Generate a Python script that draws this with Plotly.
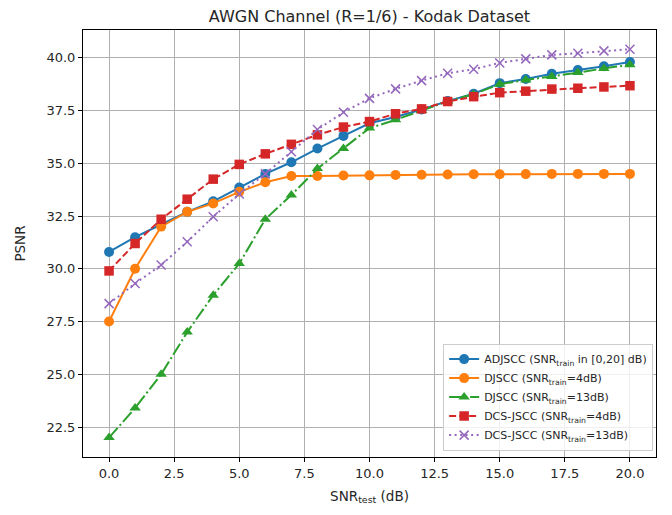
import plotly.graph_objects as go

snr_test = list(range(0, 21))

adjscc = [30.8, 31.5, 32.1, 32.7, 33.2, 33.85, 34.5, 35.05, 35.7, 36.3, 36.9,
          37.2, 37.55, 37.95, 38.3, 38.8, 39.0, 39.25, 39.42, 39.6, 39.8]
djscc_4 = [27.5, 30.0, 32.0, 32.7, 33.1, 33.65, 34.1, 34.4, 34.4, 34.42, 34.43,
           34.45, 34.46, 34.47, 34.48, 34.48, 34.49, 34.5, 34.5, 34.5, 34.5]
djscc_13 = [22.0, 23.4, 25.0, 27.0, 28.75, 30.25, 32.35, 33.5, 34.75, 35.7, 36.67,
            37.06, 37.5, 37.94, 38.28, 38.75, 38.95, 39.12, 39.3, 39.5, 39.67]
dcs_4 = [29.9, 31.2, 32.35, 33.3, 34.25, 34.95, 35.45, 35.9, 36.35, 36.72, 36.98,
         37.35, 37.58, 37.93, 38.16, 38.35, 38.42, 38.52, 38.56, 38.62, 38.68]
dcs_13 = [28.35, 29.3, 30.18, 31.28, 32.47, 33.55, 34.5, 35.55, 36.6, 37.42, 38.08,
          38.53, 38.92, 39.27, 39.46, 39.76, 39.95, 40.14, 40.22, 40.33, 40.41]

names = [
    "ADJSCC (SNR<sub>train</sub> in [0,20] dB)",
    "DJSCC (SNR<sub>train</sub>=4dB)",
    "DJSCC (SNR<sub>train</sub>=13dB)",
    "DCS-JSCC (SNR<sub>train</sub>=4dB)",
    "DCS-JSCC (SNR<sub>train</sub>=13dB)",
]
series = [adjscc, djscc_4, djscc_13, dcs_4, dcs_13]
colors = ["#1f77b4", "#ff7f0e", "#2ca02c", "#d62728", "#9467bd"]
dashes = ["solid", "solid", "13px,3px,2px,3px", "7px,3px", "2px,3.5px"]
symbols = ["circle", "circle", "triangle-up", "square", "x-thin"]
sizes = [10, 10, 10, 9.5, 9]

xticks = [0, 2.5, 5, 7.5, 10, 12.5, 15, 17.5, 20]
yticks = [22.5, 25, 27.5, 30, 32.5, 35, 37.5, 40]

fig = go.Figure()
for name, ys, c, d, s, sz in zip(names, series, colors, dashes, symbols, sizes):
    fig.add_trace(go.Scatter(
        x=snr_test, y=ys, name=name, mode="lines+markers",
        line=dict(color=c, width=2, dash=d),
        marker=dict(symbol=s, size=sz, color=c,
                    line=dict(color=c, width=1.5 if s == "x-thin" else 0)),
    ))

axis_common = dict(
    showgrid=True, gridcolor="#b0b0b0", gridwidth=0.8,
    showline=True, linecolor="black", linewidth=1, mirror=True,
    ticks="outside", ticklen=4, tickcolor="black", tickwidth=1,
    zeroline=False, tickformat=".1f",
    tickfont=dict(family="DejaVu Sans", size=13, color="#262626"),
)

W, H = 664, 507
fig.update_layout(
    width=W, height=H,
    margin=dict(l=75, r=16, t=22, b=58),
    paper_bgcolor="white", plot_bgcolor="white",
    font=dict(family="DejaVu Sans", color="#262626"),
    title=dict(text="AWGN Channel (R=1/6) - Kodak Dataset", x=0.5, xref="paper",
               y=1, yref="container", yanchor="top", pad=dict(t=3),
               font=dict(size=16, color="#262626")),
    xaxis=dict(range=[-1, 21], tickvals=xticks,
               title=dict(text="SNR<sub>test</sub> (dB)", font=dict(size=13.5), standoff=11),
               **axis_common),
    yaxis=dict(range=[21.08, 41.32], tickvals=yticks,
               title=dict(text="PSNR", font=dict(size=13.5), standoff=17),
               **axis_common),
    legend=dict(x=0.995, y=0.015, xanchor="right", yanchor="bottom",
                bgcolor="rgba(255,255,255,0.8)", bordercolor="#cccccc", borderwidth=1,
                font=dict(size=11, color="#262626"), itemwidth=30,
                tracegroupgap=0),
    showlegend=True,
)

fig.write_html("out.html")
